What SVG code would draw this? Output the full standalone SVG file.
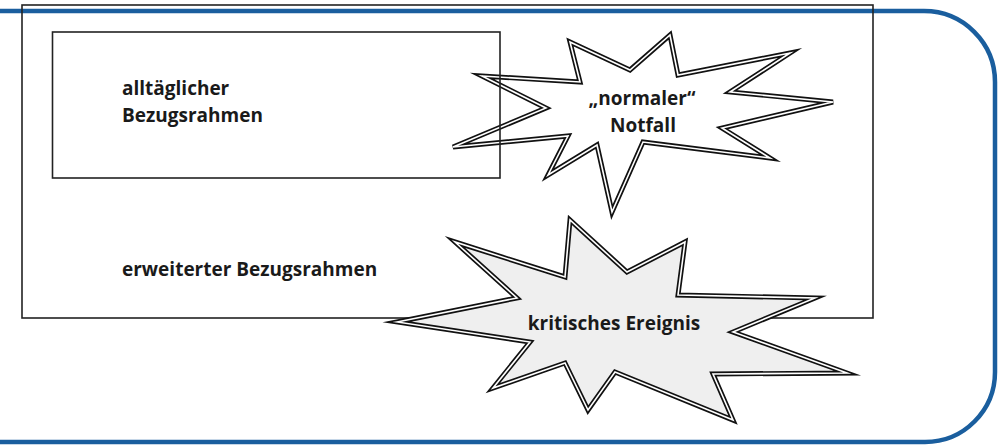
<svg xmlns="http://www.w3.org/2000/svg" width="998" height="445" viewBox="0 0 998 445">
<style>
.frame{fill:none;stroke:#222;stroke-width:1.6}
.blue{fill:none;stroke:#1a5e9e;stroke-width:4.5}
.starO{stroke:#111;stroke-width:5;stroke-linejoin:miter;stroke-miterlimit:6}
.starI{fill:none;stroke:#fff;stroke-width:1.6;stroke-linejoin:miter;stroke-miterlimit:6}
.lbl{font-family:"Open Sans","Noto Sans",sans-serif;font-weight:700;font-size:19px;fill:#1a1a1a}
</style>
<defs>
<polygon id="star1" points="482,76 546,108 453,147 568,136 548,175 597,145 612,212 643,142 770,158 722,128 833,102 730,92 790,53 678,75 670,35 630,70 570,42 580,82"/>
<polygon id="star2" points="397,322 517,298 455,242 565,277 570,220 627,272 685,242 678,295 815,298 733,332 847,373 713,374 733,420 615,372 588,410 565,363 493,388 530,342"/>
</defs>
<rect width="998" height="445" fill="#fff"/>
<g id="blue-frame">
<path class="blue" d="M0,11 H924 A71,71 0 0 1 995,82 V372 A70,70 0 0 1 925,442 H0"/>
</g>
<g id="erweiterter">
<rect class="frame" x="22" y="5" width="851" height="313"/>
<text class="lbl" x="122" y="276">erweiterter Bezugsrahmen</text>
</g>
<g id="normaler-notfall">
<use href="#star1" class="starO" fill="none"/>
<use href="#star1" class="starI"/>
<text class="lbl" x="642" y="105" text-anchor="middle">„normaler“</text>
<text class="lbl" x="643" y="132" text-anchor="middle">Notfall</text>
</g>
<g id="alltaeglicher">
<rect class="frame" x="52.5" y="32" width="447.5" height="146"/>
<text class="lbl" x="122" y="95">alltäglicher</text>
<text class="lbl" x="122" y="122">Bezugsrahmen</text>
</g>
<g id="kritisches-ereignis">
<use href="#star2" class="starO" fill="#efefef"/>
<use href="#star2" class="starI"/>
<text class="lbl" x="614" y="330" text-anchor="middle">kritisches Ereignis</text>
</g>
<g id="connectors"/>
</svg>
